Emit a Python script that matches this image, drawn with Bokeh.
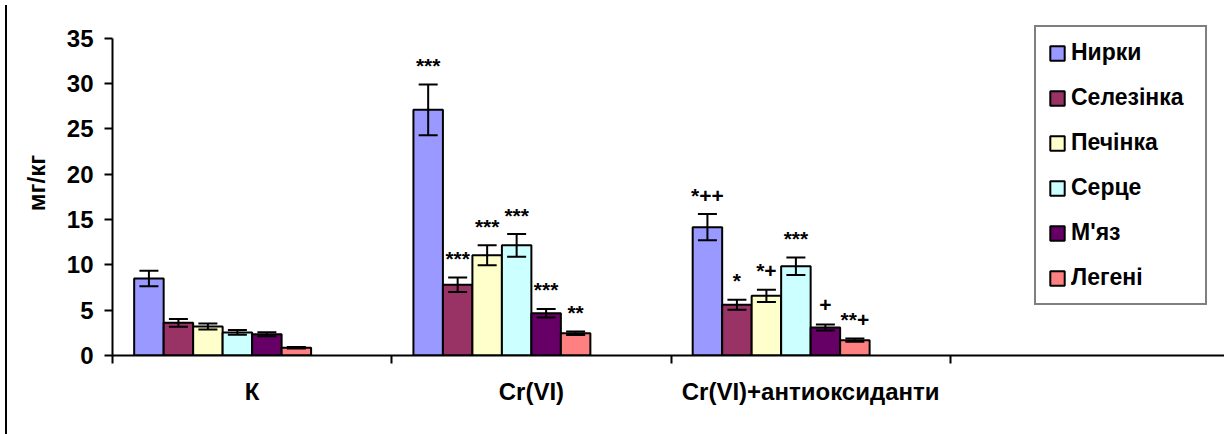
from bokeh.plotting import figure
from bokeh.models import (Range1d, FixedTicker, Whisker, TeeHead, ColumnDataSource,
                          Legend, LegendItem, InlineStyleSheet)
from bokeh.embed import file_html
from bokeh.resources import INLINE
from bokeh.core.properties import value

# ---- data ----
categories = ["К", "Cr(VI)", "Cr(VI)+антиоксиданти"]
organs = ["Нирки", "Селезінка", "Печінка", "Серце", "М'яз", "Легені"]
colors = ["#9999FF", "#993366", "#FFFFCC", "#CCFFFF", "#660066", "#FF8080"]

nyrky = [8.5, 27.1, 14.15]
nyrky_err = [0.85, 2.8, 1.45]
nyrky_marks = ["", "***", "*++"]

selezinka = [3.6, 7.8, 5.6]
selezinka_err = [0.42, 0.8, 0.55]
selezinka_marks = ["", "***", "*"]

pechinka = [3.2, 11.05, 6.58]
pechinka_err = [0.33, 1.1, 0.68]
pechinka_marks = ["", "***", "*+"]

sertse = [2.54, 12.15, 9.85]
sertse_err = [0.26, 1.25, 0.97]
sertse_marks = ["", "***", "***"]

myaz = [2.35, 4.67, 3.09]
myaz_err = [0.22, 0.47, 0.33]
myaz_marks = ["", "***", "+"]

legeni = [0.85, 2.46, 1.69]
legeni_err = [0.08, 0.2, 0.18]
legeni_marks = ["", "**", "**+"]

y_ticks = [0, 5, 10, 15, 20, 25, 30, 35]

series_values = [nyrky, selezinka, pechinka, sertse, myaz, legeni]
series_errs = [nyrky_err, selezinka_err, pechinka_err, sertse_err, myaz_err, legeni_err]
series_marks = [nyrky_marks, selezinka_marks, pechinka_marks, sertse_marks, myaz_marks, legeni_marks]

# ---- layout ----
FONT = "Liberation Sans"
n_slots = 8
bar_w = 0.1056
gap = (1 - n_slots * bar_w) / 2

border_css = InlineStyleSheet(css="""
:host { position: relative; }
:host::before {
  content: "";
  position: absolute;
  left: 5px; top: 5px; right: 0px; height: 2px;
  background: black;
  pointer-events: none;
}
:host::after {
  content: "";
  position: absolute;
  left: 5px; top: 5px; bottom: 0px; width: 2px;
  background: black;
  pointer-events: none;
}
""")

p = figure(width=1224, height=434, output_backend="svg", toolbar_location=None,
           x_range=Range1d(0, 3.982), y_range=Range1d(0, 38.05),
           min_border_left=112, min_border_right=0, min_border_top=10, min_border_bottom=79,
           stylesheets=[border_css])
p.outline_line_color = None
p.grid.visible = False
p.background_fill_color = "white"
p.border_fill_color = "white"

items = []
for i, (name, col, vals, errs, marks) in enumerate(zip(organs, colors, series_values, series_errs, series_marks)):
    xs = [c + gap + (i + 0.5) * bar_w for c in range(len(categories))]
    src = ColumnDataSource(dict(
        x=xs, top=vals,
        upper=[v + e for v, e in zip(vals, errs)],
        lower=[v - e for v, e in zip(vals, errs)],
        mark=marks))
    r = p.vbar(x="x", top="top", bottom=0, width=bar_w, source=src,
               fill_color=col, line_color="black", line_width=2)
    w = Whisker(source=src, base="x", upper="upper", lower="lower",
                line_color="black", line_width=2, level="overlay",
                upper_head=TeeHead(size=19, line_color="black", line_width=2),
                lower_head=TeeHead(size=19, line_color="black", line_width=2))
    p.add_layout(w)
    p.text(x="x", y="upper", text="mark", source=src, y_offset=-19,
           text_align="center", text_baseline="alphabetic",
           text_font=value(FONT), text_font_style="bold", text_font_size="21px",
           text_color="black")
    items.append(LegendItem(label=name, renderers=[r]))

legend = Legend(items=items, location=(922, 50), orientation="vertical",
                border_line_color="black", border_line_width=2,
                background_fill_color="white", background_fill_alpha=1,
                padding=12, spacing=18, margin=0,
                glyph_width=18, glyph_height=18, label_standoff=5,
                label_width=122, label_height=26,
                label_text_font=FONT, label_text_font_style="bold",
                label_text_font_size="23px", label_text_color="black")
p.add_layout(legend)

# x axis
xa = p.xaxis[0]
xa.ticker = FixedTicker(ticks=[k + 0.5 for k in range(len(categories))],
                        minor_ticks=list(range(len(categories) + 1)))
xa.major_label_overrides = {k + 0.5: c for k, c in enumerate(categories)}
xa.major_tick_out = 0
xa.major_tick_in = 0
xa.minor_tick_out = 8
xa.minor_tick_in = 0
xa.minor_tick_line_width = 2
xa.minor_tick_line_color = "black"
xa.axis_line_width = 2
xa.axis_line_color = "black"
xa.major_label_standoff = 14
xa.major_label_text_font = FONT
xa.major_label_text_font_style = "bold"
xa.major_label_text_font_size = "24px"
xa.major_label_text_color = "black"

# y axis
ya = p.yaxis[0]
ya.ticker = FixedTicker(ticks=y_ticks, minor_ticks=[])
ya.bounds = (0, 35)
ya.major_tick_out = 8
ya.major_tick_in = 0
ya.major_tick_line_width = 2
ya.major_tick_line_color = "black"
ya.axis_line_width = 2
ya.axis_line_color = "black"
ya.major_label_standoff = 11
ya.major_label_text_font = FONT
ya.major_label_text_font_style = "bold"
ya.major_label_text_font_size = "24px"
ya.major_label_text_color = "black"
ya.axis_label = "мг/кг"
ya.axis_label_standoff = 14
ya.axis_label_text_font = FONT
ya.axis_label_text_font_style = "bold"
ya.axis_label_text_font_size = "24px"
ya.axis_label_text_color = "black"

open("out.html", "w").write(file_html(p, INLINE))
